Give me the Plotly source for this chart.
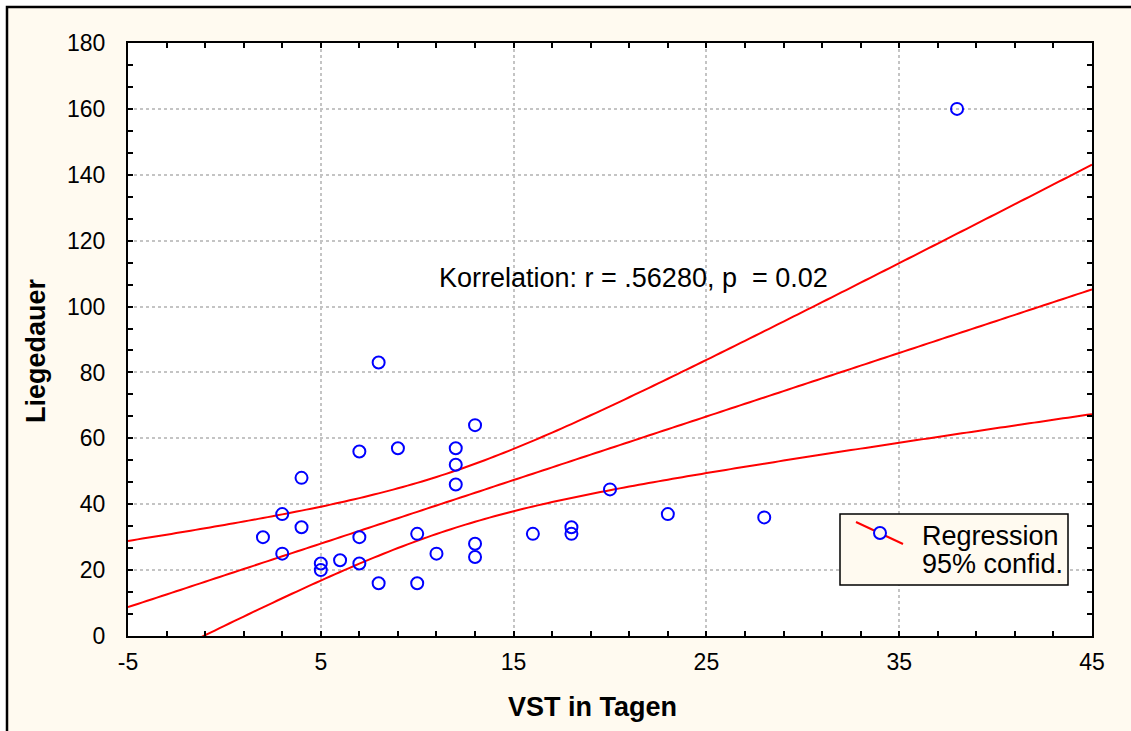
import numpy as np
import plotly.graph_objects as go

# VST (days) vs. length of stay
vst_days = [8, 13, 7, 9, 12, 12, 12, 4, 3, 4, 2, 3, 5, 5, 6, 7, 7, 8, 10, 10,
            11, 13, 13, 16, 20, 18, 18, 23, 28, 38]
liegedauer = [83, 64, 56, 57, 57, 52, 46, 48, 37, 33, 30, 25, 22, 20, 23, 30, 22, 16, 31, 16,
              25, 28, 24, 31, 44.5, 33, 31, 37, 36, 160]

x_ticks = [-5, 5, 15, 25, 35, 45]
y_ticks = [0, 20, 40, 60, 80, 100, 120, 140, 160, 180]
annotation_text = "Korrelation: r = .56280, p\u00a0\u00a0= 0.02"
legend_lines = ["Regression", "95% confid."]

T_CRIT = 2.048  # t(0.975, df=28)

x = np.asarray(vst_days, dtype=float)
y = np.asarray(liegedauer, dtype=float)
n = len(x)
slope, intercept = np.polyfit(x, y, 1)
resid = y - (intercept + slope * x)
s = np.sqrt(np.sum(resid ** 2) / (n - 2))
sxx = np.sum((x - x.mean()) ** 2)

xg = np.linspace(x_ticks[0], x_ticks[-1], 201)
yfit = intercept + slope * xg
half = T_CRIT * s * np.sqrt(1.0 / n + (xg - x.mean()) ** 2 / sxx)

CREAM = "#FFFAF0"
RED = "#FF0000"
BLUE = "#0000FF"
FONT = "Liberation Sans, Arial, sans-serif"

fig = go.Figure()
for yy in (yfit + half, yfit, yfit - half):
    fig.add_trace(go.Scatter(x=xg, y=yy, mode="lines",
                             line=dict(color=RED, width=2, simplify=False),
                             hoverinfo="skip", showlegend=False, cliponaxis=True))
fig.add_trace(go.Scatter(x=vst_days, y=liegedauer, mode="markers",
                         marker=dict(symbol="circle-open", size=12, color=BLUE,
                                     line=dict(width=2, color=BLUE)),
                         showlegend=False, cliponaxis=False))

# plot-area geometry (pixels) for positioning decorations
L, R, T, B = 128, 39, 43, 95
W = 1131 - L - R
H = 731 - T - B


def px(v):
    return (v - L) / W


def py(v):
    return (731 - B - v) / H


shapes = [
    # outer frame: white outside, black edge
    dict(type="rect", xref="paper", yref="paper", x0=px(-20), x1=px(1200), y0=py(-20), y1=py(7),
         fillcolor="white", line=dict(width=0), layer="below"),
    dict(type="rect", xref="paper", yref="paper", x0=px(-20), x1=px(7), y0=py(800), y1=py(-20),
         fillcolor="white", line=dict(width=0), layer="below"),
    dict(type="rect", xref="paper", yref="paper", x0=px(7), x1=px(1200), y0=py(800), y1=py(7),
         fillcolor="rgba(0,0,0,0)", line=dict(color="black", width=2.5), layer="above"),
    # legend box
    dict(type="rect", xref="paper", yref="paper", x0=px(840), x1=px(1068), y0=py(585), y1=py(514),
         fillcolor=CREAM, line=dict(color="black", width=1.5), layer="above"),
    dict(type="line", xref="paper", yref="paper", x0=px(856), x1=px(903), y0=py(522), y1=py(544),
         line=dict(color=RED, width=2), layer="above"),
    dict(type="circle", xref="paper", yref="paper", xsizemode="pixel", ysizemode="pixel",
         xanchor=px(880), yanchor=py(533), x0=-6, x1=6, y0=-6, y1=6,
         fillcolor=CREAM, line=dict(color=BLUE, width=2), layer="above"),
]

annotations = [
    dict(text=annotation_text, xref="paper", yref="paper", x=px(437), y=py(277.5),
         xanchor="left", yanchor="middle", showarrow=False,
         font=dict(family=FONT, size=27, color="black")),
    dict(text="<b>VST in Tagen</b>", xref="paper", yref="paper", x=px(592), y=py(707),
         xanchor="center", yanchor="middle", showarrow=False,
         font=dict(family=FONT, size=27, color="black")),
    dict(text="<b>Liegedauer</b>", xref="paper", yref="paper", x=px(36), y=py(351),
         xanchor="center", yanchor="middle", showarrow=False, textangle=-90,
         font=dict(family=FONT, size=27, color="black")),
    dict(text=legend_lines[0], xref="paper", yref="paper", x=px(920), y=py(535.5),
         xanchor="left", yanchor="middle", showarrow=False,
         font=dict(family=FONT, size=27, color="black")),
    dict(text=legend_lines[1], xref="paper", yref="paper", x=px(920), y=py(563.5),
         xanchor="left", yanchor="middle", showarrow=False,
         font=dict(family=FONT, size=27, color="black")),
]

axis_common = dict(
    showline=True, linecolor="black", linewidth=2, mirror="ticks",
    ticks="inside", ticklen=5, tickwidth=1.5, tickcolor="black",
    showgrid=True, gridcolor="#C4C4C4", gridwidth=1.5, griddash="dot",
    zeroline=False, tickfont=dict(family=FONT, size=23, color="black"),
)

fig.update_xaxes(range=[x_ticks[0], x_ticks[-1]], tickmode="array", tickvals=x_ticks,
                 ticktext=[str(v) for v in x_ticks], ticklabelstandoff=4,
                 minor=dict(tick0=-5, dtick=2, ticks="inside", ticklen=5, tickwidth=1.5,
                            tickcolor="black", showgrid=False),
                 **axis_common)
fig.update_yaxes(range=[y_ticks[0], y_ticks[-1]], tickmode="array", tickvals=y_ticks,
                 ticktext=[str(v) for v in y_ticks], ticklabelstandoff=16,
                 minor=dict(tick0=0, dtick=20 / 3, ticks="inside", ticklen=5, tickwidth=1.5,
                            tickcolor="black", showgrid=False),
                 **axis_common)

fig.update_layout(
    width=1131, height=731,
    margin=dict(l=L, r=R, t=T, b=B, pad=0),
    paper_bgcolor=CREAM, plot_bgcolor="white",
    showlegend=False, shapes=shapes, annotations=annotations,
    font=dict(family=FONT),
)

fig.write_html("out.html", config={"displayModeBar": False})
